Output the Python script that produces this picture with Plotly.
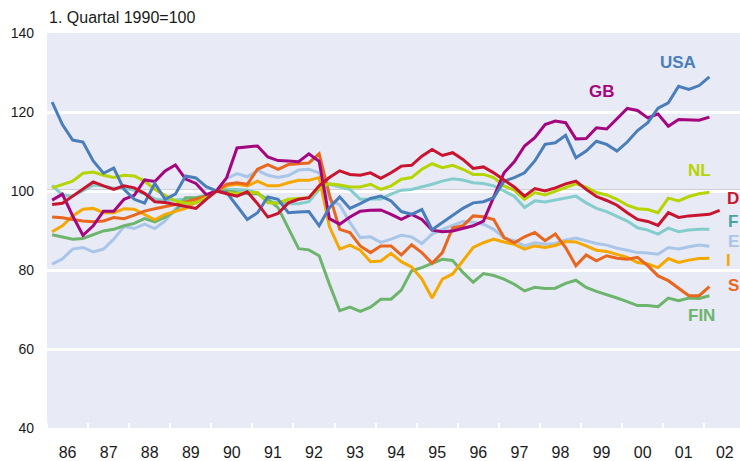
import plotly.graph_objects as go

# quarterly data, 1986 Q1 ... 2002 Q1 (D to 2002 Q2); 1. Quartal 1990 = 100
start_year = 1986
years = list(range(1986, 2003))
year_labels = ["86", "87", "88", "89", "90", "91", "92", "93", "94", "95",
               "96", "97", "98", "99", "00", "01", "02"]

usa = [122.5, 116.8, 112.9, 112.4, 107.6, 104.5, 105.8, 100.4, 97.9, 96.9, 101.9, 97.9,
       99.2, 103.8, 103.3, 101.1, 100.0, 99.6, 96.2, 92.8, 94.5, 98.5, 97.9, 94.5,
       94.7, 94.8, 91.2, 95.8, 98.5, 95.6, 96.8, 98.1, 98.7, 97.5, 94.8, 94.1,
       95.3, 90.2, 92.0, 93.7, 95.6, 97.0, 97.3, 98.3, 102.5, 103.4, 104.6, 107.6,
       111.8, 112.2, 114.1, 108.4, 110.1, 112.6, 111.8, 110.1, 112.4, 115.3, 117.3, 121.0,
       122.3, 126.5, 125.7, 126.7, 128.9]
gb = [97.7, 99.2, 93.7, 88.8, 91.2, 94.9, 94.9, 97.9, 98.9, 102.8, 102.4, 105.1,
      106.6, 103.0, 101.9, 99.1, 100.0, 103.4, 110.9, 111.2, 111.4, 108.6, 107.7, 107.6,
      107.4, 109.4, 107.5, 93.0, 91.6, 93.4, 94.9, 95.1, 95.2, 94.1, 92.8, 94.1,
      92.8, 90.1, 89.7, 89.9, 90.6, 91.2, 92.4, 98.3, 104.6, 107.4, 111.4, 113.5,
      116.8, 117.7, 117.3, 113.2, 113.3, 116.0, 115.7, 118.3, 120.9, 120.4, 118.5, 119.5,
      116.4, 118.1, 118.0, 117.9, 118.7]
nl = [100.8, 101.7, 102.5, 104.5, 104.8, 104.0, 103.4, 104.0, 103.8, 102.5, 100.4, 98.9,
      97.5, 96.9, 97.0, 98.3, 100.0, 99.6, 99.3, 99.6, 99.6, 97.0, 96.9, 97.9,
      98.1, 98.3, 100.8, 101.8, 101.5, 101.0, 101.0, 101.7, 100.4, 101.3, 103.0, 103.4,
      105.5, 106.9, 105.9, 106.5, 105.5, 104.2, 104.2, 103.4, 101.3, 100.2, 97.9, 99.6,
      99.0, 100.0, 100.8, 101.8, 101.0, 99.6, 99.0, 97.9, 96.4, 95.5, 95.3, 94.5,
      98.2, 97.5, 98.6, 99.3, 99.7]
d = [96.6, 96.9, 98.7, 100.6, 102.3, 101.3, 100.4, 101.3, 100.8, 99.4, 97.3, 97.1,
     96.6, 96.0, 95.6, 97.9, 100.0, 99.3, 98.7, 99.8, 96.8, 93.4, 94.3, 97.0,
     97.9, 98.3, 101.3, 103.4, 105.1, 104.2, 104.0, 104.6, 103.2, 104.6, 106.3, 106.5,
     108.8, 110.5, 109.0, 109.7, 108.0, 105.7, 106.1, 104.6, 102.7, 101.0, 98.7, 100.6,
     100.0, 100.8, 101.8, 102.5, 100.4, 98.6, 97.6, 96.4, 94.5, 92.8, 92.3, 91.3,
     94.5, 93.3, 93.7, 93.9, 94.1, 95.1]
f = [101.4, 99.0, 98.7, 100.2, 101.5, 101.3, 100.7, 100.8, 100.2, 99.3, 98.0, 97.6,
     97.7, 98.0, 98.3, 99.0, 100.0, 100.4, 100.4, 100.2, 99.6, 97.5, 97.0, 96.8,
     96.8, 97.3, 100.4, 101.7, 101.0, 100.4, 97.9, 97.9, 98.0, 99.2, 100.2, 100.4,
     101.0, 101.7, 102.5, 103.1, 102.8, 102.1, 101.9, 101.3, 100.0, 98.7, 95.8, 97.5,
     97.2, 97.7, 98.3, 98.7, 97.0, 95.6, 94.8, 93.7, 92.4, 90.7, 90.1, 89.1,
     90.6, 89.7, 90.1, 90.3, 90.3]
e = [81.5, 82.8, 85.3, 85.7, 84.6, 85.3, 87.8, 91.0, 90.5, 91.6, 90.5, 92.4,
     95.5, 96.4, 97.0, 98.7, 100.0, 103.2, 104.4, 103.6, 105.2, 104.0, 103.4, 103.9,
     105.3, 105.5, 104.6, 97.9, 96.5, 92.0, 88.2, 88.4, 87.0, 87.8, 88.8, 88.4,
     86.7, 89.1, 90.3, 91.2, 92.3, 92.1, 91.6, 90.3, 88.1, 87.4, 86.1, 86.9,
     86.5, 86.7, 87.6, 88.1, 87.4, 86.7, 86.3, 85.5, 85.0, 84.4, 84.3, 84.0,
     85.7, 85.3, 85.9, 86.3, 86.0]
i_ = [89.7, 91.2, 93.7, 95.4, 95.6, 94.5, 94.5, 95.5, 95.4, 94.1, 92.7, 94.1,
      94.9, 95.6, 97.2, 98.7, 100.0, 101.3, 101.7, 101.3, 102.5, 101.3, 101.3, 102.1,
      102.7, 102.7, 103.4, 91.0, 85.3, 86.3, 85.0, 82.1, 82.3, 84.2, 82.1, 80.8,
      77.7, 72.9, 77.7, 79.0, 82.3, 85.7, 86.9, 87.8, 87.1, 86.5, 85.3, 86.1,
      85.7, 86.2, 87.2, 87.1, 86.1, 85.0, 84.7, 84.0, 83.2, 81.9, 81.5, 80.6,
      82.9, 81.9, 82.5, 82.9, 83.0]
s = [93.4, 93.2, 92.8, 92.4, 92.2, 92.4, 93.3, 93.0, 93.9, 94.9, 95.5, 96.0,
     96.6, 97.2, 97.9, 98.7, 100.0, 101.7, 102.1, 101.7, 105.5, 106.7, 105.5, 106.7,
     106.9, 107.1, 109.4, 99.0, 90.3, 89.5, 86.1, 84.4, 86.1, 86.1, 83.8, 86.4,
     84.4, 81.7, 84.4, 90.7, 91.2, 93.7, 93.5, 92.8, 88.2, 86.9, 88.4, 89.5,
     87.4, 89.1, 85.7, 81.1, 83.8, 82.3, 83.6, 83.0, 82.7, 83.2, 81.1, 78.5,
     77.3, 75.3, 73.5, 73.5, 75.8]
fin = [88.9, 88.4, 87.8, 88.0, 88.9, 89.9, 90.3, 91.2, 91.8, 93.0, 92.2, 93.4,
       94.9, 98.3, 98.3, 98.7, 100.0, 100.0, 99.6, 99.3, 99.3, 97.9, 95.8, 90.7,
       85.4, 85.1, 83.6, 76.4, 69.7, 70.6, 69.5, 70.6, 72.6, 72.6, 74.9, 79.8,
       80.6, 81.7, 82.7, 82.4, 79.4, 76.9, 79.1, 78.6, 77.7, 76.4, 74.7, 75.6,
       75.3, 75.4, 76.6, 77.4, 75.6, 74.6, 73.8, 72.9, 72.0, 71.0, 71.0, 70.7,
       72.9, 72.2, 72.9, 72.8, 73.5]

series = [
    # name, values, line colour, label colour, label x / y (fraction of plot area)
    ("E", e, "#a9c5e8", "#a9c5e8", 0.990, 0.473),
    ("F", f, "#84cdcc", "#4aa3a3", 0.990, 0.522),
    ("FIN", fin, "#6db46d", "#6db46d", 0.945, 0.286),
    ("I", i_, "#f4a800", "#f4a800", 0.984, 0.423),
    ("S", s, "#e8661e", "#e8661e", 0.990, 0.360),
    ("NL", nl, "#b6d400", "#b6d400", 0.941, 0.653),
    ("GB", gb, "#a3067f", "#a3067f", 0.801, 0.851),
    ("USA", usa, "#4a7ebb", "#4a7ebb", 0.911, 0.926),
    ("D", d, "#c8142e", "#c8142e", 0.990, 0.582),
]

fig = go.Figure()
for name, vals, col, lcol, lx, ly in series:
    xs = [start_year + (k + 0.5) / 4 for k in range(len(vals))]
    fig.add_trace(go.Scatter(x=xs, y=vals, mode="lines", name=name,
                             line=dict(color=col, width=3), showlegend=False,
                             hoverinfo="skip"))
    fig.add_annotation(xref="paper", yref="paper", x=lx, y=ly,
                       text="<b>%s</b>" % name, showarrow=False,
                       font=dict(color=lcol, size=17, family="Liberation Sans, Arial"),
                       xanchor="center", yanchor="middle")

fig.add_shape(type="line", xref="paper", x0=0, x1=1, yref="y", y0=100, y1=100,
              line=dict(color="#b3b3b3", width=3), layer="below")

fig.add_annotation(xref="paper", yref="paper", x=0, y=1, xshift=0, yshift=5,
                   text="1. Quartal 1990=100", showarrow=False,
                   xanchor="left", yanchor="bottom",
                   font=dict(size=16, color="#1a1a1a", family="Liberation Sans, Arial"))

fig.update_layout(
    width=740, height=461,
    margin=dict(l=47, r=0, t=33, b=33),
    paper_bgcolor="white",
    plot_bgcolor="#e8eaf6",
    font=dict(family="Liberation Sans, Arial", color="#1a1a1a"),
)
fig.update_xaxes(
    range=[1986, 2002.87],
    tickmode="array",
    tickvals=[y + 0.5 for y in years],
    ticktext=year_labels,
    ticks="",
    showgrid=False,
    zeroline=False,
    showline=False,
    tickfont=dict(size=16),
    ticklabelstandoff=13,
    minor=dict(tickmode="array", tickvals=years, ticks="inside", ticklen=5,
               tickwidth=2, tickcolor="white", showgrid=False),
)
fig.update_yaxes(
    range=[40, 140],
    tickvals=[40, 60, 80, 100, 120, 140],
    ticks="",
    showgrid=True,
    gridcolor="white",
    gridwidth=2.5,
    zeroline=False,
    showline=False,
    tickfont=dict(size=14),
    ticklabelstandoff=12,
)

fig.write_html("out.html", config={"displayModeBar": False},
               post_script="document.body.style.margin='0';document.body.style.padding='0';")
